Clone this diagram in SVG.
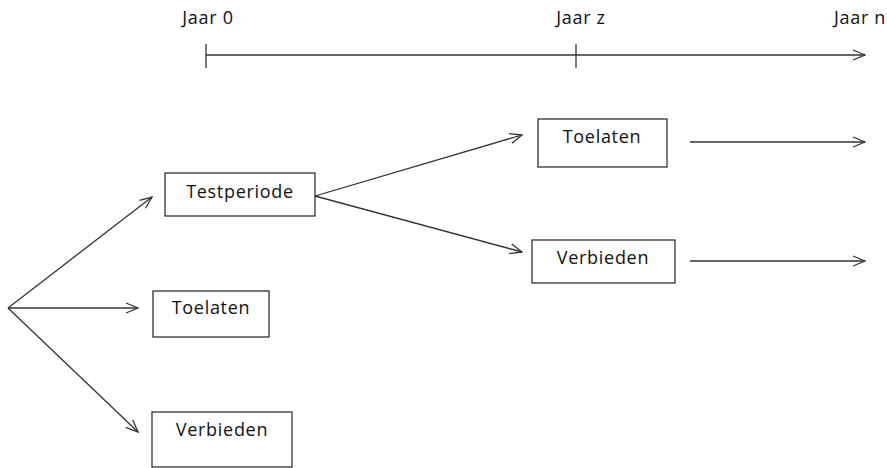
<svg xmlns="http://www.w3.org/2000/svg" width="887" height="468" viewBox="0 0 887 468">
<style>
.box{fill:#fff;stroke:#222;stroke-width:1.2}
.lbl{font-family:"Open Sans","Noto Sans",sans-serif;font-size:18px;letter-spacing:0.7px;fill:#111;text-anchor:middle}
.ln{stroke:#333;stroke-width:1.3;fill:none}
</style>
<defs>
<marker id="ah" markerWidth="14" markerHeight="12" refX="13" refY="6" orient="auto" markerUnits="userSpaceOnUse">
<path d="M1,1 L13,6 L1,11" fill="none" stroke="#333" stroke-width="1.3"/>
</marker>
</defs>
<g id="timeline">
<line class="ln" x1="206" y1="55" x2="865" y2="55" marker-end="url(#ah)"/>
<line class="ln" x1="206" y1="44" x2="206" y2="68"/>
<line class="ln" x1="576" y1="44" x2="576" y2="68"/>
<text class="lbl" x="208" y="24">Jaar 0</text>
<text class="lbl" x="581" y="24">Jaar z</text>
<text class="lbl" x="860" y="24">Jaar n</text>
</g>
<g id="connectors">
<line class="ln" x1="8" y1="308" x2="152" y2="197" marker-end="url(#ah)"/>
<line class="ln" x1="8" y1="308" x2="138" y2="308" marker-end="url(#ah)"/>
<line class="ln" x1="8" y1="308" x2="138" y2="432" marker-end="url(#ah)"/>
<line class="ln" x1="315" y1="196" x2="522" y2="135" marker-end="url(#ah)"/>
<line class="ln" x1="315" y1="196" x2="522" y2="252" marker-end="url(#ah)"/>
<line class="ln" x1="690" y1="142" x2="865" y2="142" marker-end="url(#ah)"/>
<line class="ln" x1="690" y1="261" x2="865" y2="261" marker-end="url(#ah)"/>
</g>
<g id="testperiode">
<rect class="box" x="165" y="173" width="150" height="43"/>
<text class="lbl" x="240" y="198">Testperiode</text>
</g>
<g id="toelaten1">
<rect class="box" x="153" y="291" width="116" height="46"/>
<text class="lbl" x="211" y="314">Toelaten</text>
</g>
<g id="verbieden1">
<rect class="box" x="152" y="412" width="140" height="55"/>
<text class="lbl" x="222" y="436">Verbieden</text>
</g>
<g id="toelaten2">
<rect class="box" x="538" y="119" width="129" height="48"/>
<text class="lbl" x="602" y="143">Toelaten</text>
</g>
<g id="verbieden2">
<rect class="box" x="532" y="240" width="143" height="43"/>
<text class="lbl" x="603" y="264">Verbieden</text>
</g>
</svg>
